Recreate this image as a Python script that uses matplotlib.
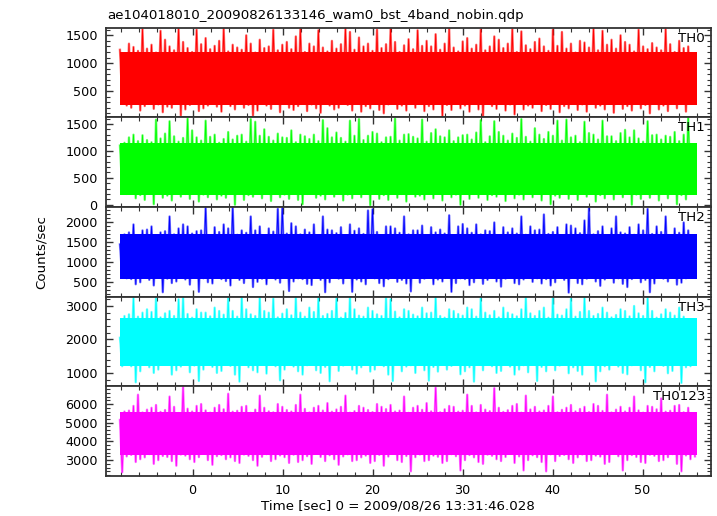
import numpy as np
import matplotlib
matplotlib.use("Agg")
import matplotlib.pyplot as plt
from matplotlib.ticker import MultipleLocator

plt.rcParams['font.family'] = ['DejaVu Sans']

# time span of the light curve (sec from 2009/08/26 13:31:46.028)
t_start = -8.08
t_end = 56.07

bands = ["TH0", "TH1", "TH2", "TH3", "TH0123"]
colors = ["#ff0000", "#00ff00", "#0000ff", "#00ffff", "#ff00ff"]

# per ~0.5 s bin: highest and lowest excursion
th0_hi = [1240, 1180, 1350, 1290, 1220, 1610, 1260, 1330, 1190, 1580, 1420, 1300, 1230, 1620, 1380, 1270,
          1200, 1600, 1340, 1450, 1250, 1310, 1400, 1620, 1210, 1330, 1280, 1240, 1500, 1350, 1190, 1420,
          1270, 1300, 1600, 1230, 1330, 1380, 1250, 1480, 1610, 1200, 1350, 1300, 1590, 1280, 1210, 1400,
          1260, 1340, 1620, 1560, 1240, 1460, 1300, 1350, 1220, 1600, 1270, 1340, 1610, 1380, 1200, 1320,
          1430, 1250, 1590, 1310, 1400, 1300, 1520, 1240, 1350, 1620, 1280, 1210, 1390, 1450, 1260, 1330,
          1600, 1230, 1300, 1480, 1420, 1270, 1350, 1610, 1200, 1570, 1320, 1250, 1380, 1440, 1300, 1220,
          1600, 1310, 1560, 1260, 1350, 1190, 1400, 1370, 1280, 1620, 1230, 1580, 1330, 1420, 1260, 1500,
          1380, 1330, 1210, 1600, 1300, 1250, 1360, 1280, 1230, 1610, 1340, 1200, 1400, 1270, 1300, 1100]
th0_lo = [380, 240, 200, 280, 150, 230, 300, 180, 260, 120, 220, 200, 290, 60, 170, 250,
          310, 140, 190, 240, 270, 220, 130, 300, 230, 170, 280, 200, 250, 60, 150, 310,
          240, 180, 270, 120, 290, 200, 160, 230, 300, 140, 260, 190, 110, 280, 240, 170,
          200, 310, 250, 150, 280, 130, 230, 190, 290, 160, 100, 260, 300, 180, 240, 150,
          270, 200, 310, 140, 230, 170, 280, 50, 250, 160, 300, 190, 240, 130, 270, 170,
          40, 290, 230, 180, 300, 150, 260, 80, 280, 170, 240, 200, 310, 140, 250, 180,
          280, 120, 230, 190, 290, 160, 260, 130, 300, 200, 240, 170, 270, 110, 310, 180,
          230, 150, 280, 190, 250, 100, 300, 170, 240, 140, 270, 190, 290, 130, 300, 420]

th1_hi = [1100, 1150, 1250, 1300, 1180, 1290, 1200, 1160, 1580, 1230, 1320, 1550, 1270, 1170, 1240, 1600,
          1380, 1250, 1190, 1560, 1260, 1300, 1150, 1220, 1350, 1210, 1280, 1300, 1170, 1590, 1540, 1280,
          1400, 1260, 1190, 1320, 1250, 1240, 1380, 1160, 1300, 1270, 1220, 1300, 1180, 1570, 1420, 1250,
          1340, 1240, 1170, 1560, 1280, 1590, 1200, 1280, 1350, 1320, 1160, 1250, 1260, 1600, 1190, 1300,
          1310, 1260, 1230, 1580, 1170, 1330, 1400, 1270, 1250, 1380, 1180, 1250, 1290, 1300, 1210, 1340,
          1570, 1160, 1270, 1550, 1350, 1280, 1190, 1320, 1240, 1590, 1260, 1170, 1420, 1300, 1220, 1350,
          1280, 1560, 1190, 1580, 1250, 1280, 1160, 1540, 1330, 1300, 1210, 1560, 1270, 1270, 1180, 1330,
          1390, 1250, 1380, 1230, 1170, 1550, 1290, 1300, 1210, 1280, 1260, 1350, 1180, 1300, 1610, 1000]
th1_lo = [320, 200, 230, 120, 180, 90, 250, 10, 210, 130, 170, 80, 240, 150, 200, 110,
          260, 60, 190, 140, 230, 100, 170, 130, 220, 0, 250, 90, 180, 150, 240, 120,
          210, 70, 260, 140, 190, 110, 230, 90, 10, 200, 250, 130, 170, 100, 220, 150,
          240, 80, 190, 120, 260, 140, 210, -10, 230, 110, 180, 90, 250, 130, 200, 60,
          220, 150, 170, 100, 240, 120, 210, 80, 260, 140, 190, 0, 230, 110, 200, 130,
          250, 90, 180, 150, 220, 70, 240, 120, 190, 100, 260, 140, 210, 80, 230, 10,
          170, 130, 250, 110, 200, 90, 220, 150, 240, 60, 180, 120, 260, 100, 210, 140,
          230, 0, 190, 110, 250, 130, 200, 80, 220, 120, 240, 10, 180, 100, 250, 350]

th2_hi = [1450, 1700, 1750, 1950, 1680, 1800, 1820, 1900, 1660, 1750, 1780, 2150, 1700, 1850, 1950, 1900,
          1720, 1780, 1800, 2370, 1670, 1880, 1760, 1950, 1850, 2380, 1690, 1800, 1740, 2150, 1800, 1900,
          1660, 1850, 1770, 2340, 2360, 1720, 1980, 1900, 1700, 1820, 1750, 1950, 1680, 2150, 1820, 1800,
          1730, 1880, 1660, 1950, 1790, 1850, 1710, 2300, 2330, 1760, 1680, 1900, 1900, 1850, 1740, 2150,
          1700, 1800, 1800, 1920, 1670, 1880, 1750, 1820, 1720, 2180, 1680, 1900, 1960, 1850, 1740, 1950,
          1700, 1800, 1780, 2000, 1660, 1880, 1750, 1850, 1720, 2150, 1690, 1900, 1800, 1820, 2200, 1710,
          1760, 1880, 1680, 1950, 1920, 1850, 1730, 2050, 2360, 1700, 1780, 1900, 1670, 1850, 2150, 1750,
          1720, 1880, 1690, 1950, 1800, 2340, 1710, 1900, 1760, 2150, 1680, 1850, 1740, 2000, 1800, 1640]
th2_lo = [650, 600, 580, 450, 500, 630, 560, 420, 610, 250, 590, 480, 520, 640, 570, 440,
          620, 260, 600, 500, 470, 650, 580, 530, 420, 610, 560, 480, 630, 380, 510, 590,
          450, 620, 570, 490, 640, 280, 520, 600, 580, 460, 430, 630, 560, 250, 500, 610,
          590, 470, 640, 260, 570, 520, 450, 620, 600, 480, 400, 580, 650, 510, 560, 470,
          270, 610, 490, 590, 630, 450, 570, 520, 620, 260, 480, 600, 580, 430, 500, 640,
          460, 560, 610, 520, 390, 590, 630, 480, 450, 570, 620, 510, 600, 470, 580, 420,
          500, 650, 560, 240, 610, 480, 450, 590, 630, 520, 410, 570, 620, 490, 600, 460,
          380, 580, 640, 500, 560, 250, 470, 610, 590, 520, 630, 440, 490, 600, 650, 680]

th3_hi = [2050, 2700, 2750, 3250, 2680, 2800, 2900, 2820, 3270, 2660, 2780, 2850, 2700, 3200, 3260, 2760,
          2650, 2900, 2800, 2800, 2690, 2950, 2850, 2740, 3240, 2850, 2680, 3270, 2900, 2750, 2700, 3250,
          2850, 2800, 3220, 2660, 2770, 2900, 2720, 3260, 2800, 2680, 2950, 2820, 3250, 2700, 2760, 2850,
          3230, 2650, 2790, 3270, 2900, 2710, 2680, 2950, 2850, 2750, 2700, 3250, 3200, 2830, 2660, 2900,
          2850, 2740, 2690, 2950, 2780, 2800, 3260, 2700, 2650, 2900, 2850, 2760, 2710, 2950, 2900, 2680,
          3240, 2800, 2720, 2850, 2660, 2950, 2800, 2750, 2690, 2900, 3250, 2780, 2700, 2850, 2950, 2650,
          3260, 2740, 2710, 2900, 3220, 2680, 2820, 3250, 2850, 2700, 2760, 2950, 2800, 2660, 2730, 2900,
          2850, 2690, 3000, 2780, 2700, 3240, 2850, 2650, 2750, 2900, 2800, 2710, 2950, 2680, 2500, 2300]
th3_lo = [1200, 1250, 1200, 720, 1050, 1280, 1170, 1000, 1100, 1240, 1300, 950, 1080, 1190, 1260, 1020,
          1220, 760, 1100, 1290, 1180, 1000, 1060, 1250, 1210, 950, 740, 1300, 1170, 1080, 1020, 1240,
          980, 1280, 1200, 780, 1100, 1260, 1190, 1050, 950, 1230, 1290, 1080, 1000, 1180, 750, 1250,
          1060, 1220, 1300, 1100, 980, 1170, 1240, 1040, 1100, 1270, 1200, 950, 760, 1260, 1050, 1190,
          1230, 1000, 1290, 1080, 770, 1180, 1040, 1250, 1100, 1210, 1300, 960, 1050, 1170, 740, 1240,
          1080, 1280, 1200, 1000, 1060, 1260, 1190, 950, 1100, 1230, 1020, 1290, 760, 1180, 1050, 1250,
          1080, 1220, 1300, 990, 1170, 1060, 950, 1240, 1270, 750, 1050, 1200, 1100, 1260, 1190, 1000,
          960, 1230, 1290, 1080, 720, 1180, 1050, 1250, 1210, 990, 1060, 1300, 700, 1170, 1200, 1300]

th0123_hi = [5150, 5600, 5650, 5900, 6500, 5550, 5700, 5800, 5950, 5580, 5680, 6400, 5850, 5520, 6900, 5750,
             5600, 5900, 6000, 5660, 5540, 5800, 5950, 5720, 6550, 5590, 5640, 5850, 5900, 5530, 5700, 6450,
             5800, 5610, 5560, 6000, 5850, 5680, 5600, 5950, 6500, 5740, 5550, 5800, 5900, 5650, 6050, 5590,
             5710, 5850, 6450, 5540, 5620, 5900, 5800, 5680, 5570, 6000, 5850, 5730, 5950, 5600, 5650, 6400,
             5530, 5800, 5900, 5690, 6050, 5610, 6880, 5560, 5720, 5900, 5850, 5590, 5640, 6500, 5900, 5550,
             5950, 5700, 5620, 6850, 5800, 5580, 5670, 5900, 6000, 5540, 6450, 5710, 5850, 5600, 5650, 5900,
             6400, 5560, 5690, 5800, 5950, 5610, 5740, 5850, 5570, 6000, 5900, 5630, 6500, 5550, 5700, 5850,
             5600, 5800, 6400, 5660, 5540, 5900, 5850, 5720, 6300, 5590, 5640, 5900, 5950, 5560, 5800, 5500]
th0123_lo = [2350, 3200, 3280, 2900, 3050, 3150, 3320, 2800, 3000, 3220, 3170, 2950, 2700, 3300, 3240, 3050,
             2900, 3160, 3340, 3000, 2750, 3210, 3270, 3050, 3150, 2950, 2850, 3300, 3230, 3000, 2700, 3180,
             3320, 2950, 3050, 3250, 3160, 2850, 3290, 2900, 3000, 3210, 2800, 3340, 3170, 2950, 3260, 3050,
             2750, 3200, 3310, 2950, 3000, 3150, 3240, 2850, 2950, 3280, 2700, 3190, 3330, 3000, 2900, 3220,
             2400, 3160, 3300, 2950, 3000, 3240, 3180, 2850, 2950, 3320, 3210, 2450, 3000, 3270, 3150, 2900,
             2800, 3290, 3230, 3050, 2950, 3170, 3340, 2850, 3200, 2450, 3000, 3260, 3160, 2900, 2400, 3310,
             2950, 3220, 3280, 3050, 2850, 3150, 3300, 2950, 3000, 3240, 3190, 2800, 2900, 3330, 3210, 2450,
             3000, 3270, 3170, 2900, 2850, 3290, 3230, 2950, 3000, 3160, 3320, 2800, 2400, 3250, 3050, 3200]

# band where the curve is dense (solid colour)
core_lo = [250, 180, 580, 1200, 3250]
core_hi = [1200, 1150, 1700, 2650, 5550]

his = [th0_hi, th1_hi, th2_hi, th3_hi, th0123_hi]
los = [th0_lo, th1_lo, th2_lo, th3_lo, th0123_lo]

ylims = [(30, 1640), (-40, 1625), (140, 2390), (600, 3280), (2150, 6950)]
majors = [500, 500, 500, 1000, 1000]

fig = plt.figure(figsize=(7.17, 5.16), dpi=100)
left, width = 106 / 717, 605 / 717
top_px, bot_px = 27.5, 476.0
ph = (bot_px - top_px) / 5

nb = len(th0_hi)
w = (t_end - t_start) / nb
t_hi = t_start + np.arange(nb) * w
t_lo = t_hi + 0.5 * w
t_zig = np.empty(2 * nb)
t_zig[0::2] = t_hi
t_zig[1::2] = t_lo

for i in range(5):
    y0 = 1 - (top_px + (i + 1) * ph) / 516
    ax = fig.add_axes([left, y0, width, ph / 516])
    y_zig = np.empty(2 * nb)
    y_zig[0::2] = his[i]
    y_zig[1::2] = los[i]
    c = colors[i]
    ax.plot(t_zig, y_zig, color=c, lw=1.7, alpha=0.55)
    ax.plot(t_zig, y_zig, color=c, lw=0.6)
    ax.fill_between([t_start, t_end], core_lo[i], core_hi[i], color=c, lw=0)
    ax.set_xlim(-9.63, 57.6)
    ax.set_ylim(*ylims[i])
    ax.xaxis.set_major_locator(MultipleLocator(10))
    ax.xaxis.set_minor_locator(MultipleLocator(2))
    ax.yaxis.set_major_locator(MultipleLocator(majors[i]))
    ax.yaxis.set_minor_locator(MultipleLocator(majors[i] / 5))
    ax.tick_params(which='both', direction='in', top=True, right=True,
                   labelsize=9.2, color='#333333')
    ax.tick_params(which='major', length=5, width=1.0, pad=6)
    ax.tick_params(which='minor', length=3, width=0.8)
    for s in ax.spines.values():
        s.set_linewidth(1.3)
        s.set_color('#333333')
    if i < 4:
        ax.tick_params(labelbottom=False)
    ax.text(0.99, 0.955, bands[i], transform=ax.transAxes, ha='right',
            va='top', fontsize=9.6)

fig.text(107 / 717, 1 - 19.5 / 516,
         "ae104018010_20090826133146_wam0_bst_4band_nobin.qdp",
         fontsize=9.6, va='baseline', ha='left')
fig.text(41 / 717, 1 - 252 / 516, "Counts/sec", rotation=90,
         fontsize=9.6, va='center', ha='center')
fig.text(397.5 / 717, 1 - 509.5 / 516,
         "Time [sec] 0 = 2009/08/26 13:31:46.028",
         fontsize=9.6, va='baseline', ha='center')

fig.savefig("out.png", dpi=100)
